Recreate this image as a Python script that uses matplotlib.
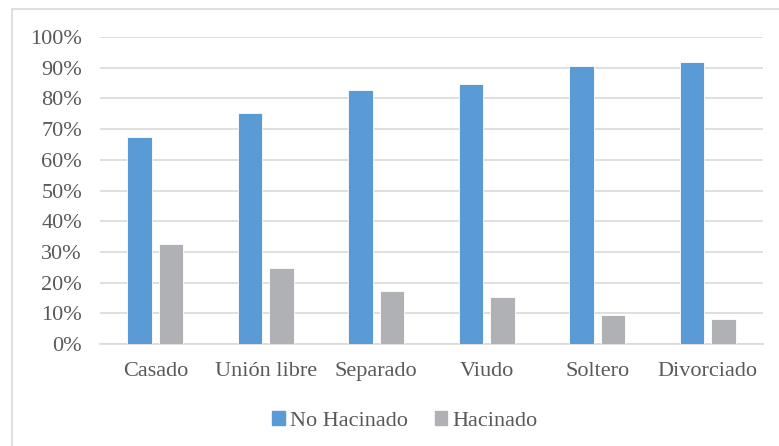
import numpy as np
import matplotlib
matplotlib.use('Agg')
import matplotlib.pyplot as plt
from matplotlib.patches import Rectangle, Patch

# data
categorias = ['Casado', 'Unión libre', 'Separado', 'Viudo', 'Soltero', 'Divorciado']
no_hacinado = [67.3, 75.4, 82.6, 84.8, 90.6, 91.8]
hacinado = [32.7, 24.6, 17.4, 15.2, 9.4, 8.2]
yticks = [0, 10, 20, 30, 40, 50, 60, 70, 80, 90, 100]
series = ['No Hacinado', 'Hacinado']

azul = '#5B9BD5'
gris = '#B0B1B4'
texto = '#595959'

plt.rcParams['font.family'] = ['Liberation Serif', 'DejaVu Serif']
plt.rcParams['font.size'] = 16

fig = plt.figure(figsize=(7.79, 4.46), dpi=100)
W, H = 779, 446

# chart border (only left/top visible in the reference)
fig.patches.append(Rectangle((12 / W, -0.1), 1.2, 1 - 9 / H + 0.1,
                             transform=fig.transFigure, fill=False,
                             edgecolor='#D9D9D9', linewidth=1.2))

ax = fig.add_axes([100 / W, 1 - 344 / H, (763 - 100) / W, (344 - 37) / H])

x = np.arange(len(categorias))
w = 0.223
off = 0.142
ax.bar(x - off, no_hacinado, w, color=azul, edgecolor='white', linewidth=0.6, zorder=3)
ax.bar(x + off, hacinado, w, color=gris, edgecolor='white', linewidth=0.6, zorder=3)

ax.set_xlim(-0.5, len(categorias) - 0.5)
ax.set_ylim(0, 100)
ax.set_yticks(yticks)
ax.set_yticklabels([f'{v}%' for v in yticks])
ax.set_xticks(x)
ax.set_xticklabels(categorias)
ax.tick_params(axis='both', length=0, colors=texto)
ax.tick_params(axis='y', pad=13)
ax.tick_params(axis='x', pad=13)

ax.yaxis.grid(True, color='#D9D9D9', linewidth=1.2, zorder=0)
for s in ['top', 'right', 'left']:
    ax.spines[s].set_visible(False)
ax.spines['bottom'].set_color('#D9D9D9')
ax.spines['bottom'].set_linewidth(1.2)

handles = [Patch(color=azul), Patch(color=gris)]
leg = fig.legend(handles, series, loc='center', bbox_to_anchor=(405 / W, 1 - 421 / H),
                 ncol=2, frameon=False, handlelength=0.55, handleheight=0.55,
                 handletextpad=0.25, columnspacing=1.2, fontsize=16)
for t in leg.get_texts():
    t.set_color(texto)

fig.savefig('out.png', dpi=100)
